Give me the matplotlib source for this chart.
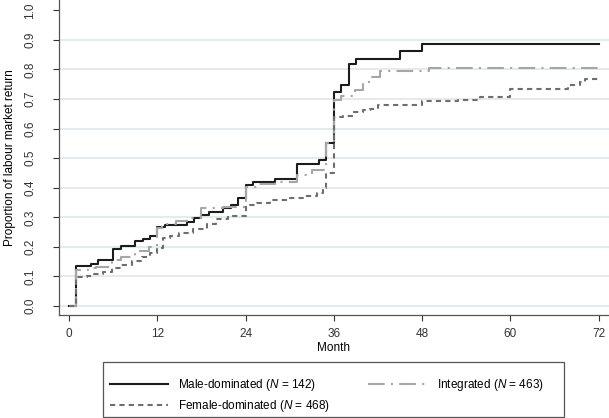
import matplotlib.pyplot as plt
from matplotlib.patches import Rectangle

plt.rcParams["font.family"] = "Liberation Sans"
plt.rcParams["mathtext.fontset"] = "custom"
plt.rcParams["mathtext.rm"] = "Liberation Sans"
plt.rcParams["mathtext.it"] = "Liberation Sans:italic"

# %% Data
male_t = [0, 1, 3, 4, 6, 7, 9, 10, 11, 12, 13, 16, 17, 18, 19, 21, 22, 23, 24, 25,
          28, 31, 34, 35, 36, 37, 38, 39, 45, 48, 72]
male_v = [0, 0.136, 0.142, 0.155, 0.193, 0.203, 0.220, 0.227, 0.236, 0.267, 0.274,
          0.285, 0.296, 0.307, 0.319, 0.330, 0.341, 0.365, 0.409, 0.420, 0.428, 0.480,
          0.493, 0.552, 0.724, 0.749, 0.817, 0.837, 0.862, 0.887, 0.887]

integ_t = [0, 1, 2.6, 3.7, 5.8, 7.1, 9, 10.9, 12, 12.7, 14.5, 16, 18, 21, 24, 25.5,
           28, 31, 33, 35, 36, 37, 38.9, 40, 41, 42.3, 49, 72]
integ_v = [0, 0.122, 0.128, 0.133, 0.155, 0.165, 0.186, 0.198, 0.264, 0.277, 0.288,
           0.298, 0.330, 0.335, 0.403, 0.411, 0.420, 0.443, 0.460, 0.552, 0.696, 0.710,
           0.730, 0.758, 0.775, 0.795, 0.806, 0.806]

female_t = [0, 1, 2.4, 3.3, 4.6, 5.8, 7.1, 8.5, 9.9, 11, 12, 12.8, 13.7, 15, 16.8,
            18.7, 20, 21.6, 24, 25.5, 27.3, 30, 31.8, 33.7, 34.5, 35, 36, 37.3, 38.6,
            40, 40.9, 42, 48, 52.9, 55.8, 60, 67.8, 69.4, 70.1, 72]
female_v = [0, 0.097, 0.100, 0.107, 0.116, 0.128, 0.138, 0.153, 0.167, 0.178, 0.195,
            0.229, 0.238, 0.248, 0.262, 0.279, 0.293, 0.304, 0.341, 0.349, 0.358, 0.364,
            0.372, 0.381, 0.398, 0.450, 0.638, 0.642, 0.656, 0.662, 0.668, 0.679, 0.693,
            0.698, 0.707, 0.735, 0.747, 0.758, 0.767, 0.767]

x_ticks = [0, 12, 24, 36, 48, 60, 72]
y_ticks = [0.0, 0.1, 0.2, 0.3, 0.4, 0.5, 0.6, 0.7, 0.8, 0.9, 1.0]

FS = 8.5

# %% Plot
fig = plt.figure(figsize=(6.09, 4.18), dpi=100)
ax = fig.add_axes([59 / 609, 1 - 315 / 418, 550 / 609, 315 / 418])

for y in y_ticks[:-1]:
    ax.axhline(y, color="#e1e9ec", lw=1.3, zorder=0)

l_male, = ax.step(male_t, male_v, where="post", color="#1c1c1c", lw=1.5)
l_int, = ax.step(integ_t, integ_v, where="post", color="#a6a6a6", lw=1.5,
                 linestyle=(0, (8, 3, 1, 3)))
l_fem, = ax.step(female_t, female_v, where="post", color="#6e6e6e", lw=1.5,
                 linestyle=(0, (2.5, 2)))

ax.set_xlim(-1.36, 73.4)
ax.set_ylim(-0.0304, 1.035)
ax.set_xticks(x_ticks)
ax.set_yticks(y_ticks)
ax.set_yticklabels([f"{v:.1f}" for v in y_ticks], rotation=90, va="center")
ax.tick_params(axis="both", labelsize=FS, colors="#333333", length=4.5, width=0.8)
ax.tick_params(axis="y", pad=12)
ax.tick_params(axis="x", pad=5)
for s in ["top", "right"]:
    ax.spines[s].set_visible(False)
for s in ["left", "bottom"]:
    ax.spines[s].set_color("#555555")
    ax.spines[s].set_linewidth(0.9)

ax.set_xlabel("Month", fontsize=FS, labelpad=1)
ax.set_ylabel("Proportion of labour market return", fontsize=FS, labelpad=6)

# legend box drawn separately so the columns sit where the reference has them
fig.add_artist(Rectangle((103 / 609, 1 / 418), 461 / 609, 55 / 418,
                         transform=fig.transFigure, fill=False,
                         edgecolor="#555555", lw=0.9))
fig.legend([l_male, l_fem, l_int],
           ["Male-dominated ($\\mathit{N}$ = 142)",
            "Female-dominated ($\\mathit{N}$ = 468)",
            "Integrated ($\\mathit{N}$ = 463)"],
           ncol=2, loc="upper left", bbox_to_anchor=(110 / 609, 1 - 377 / 418),
           fontsize=FS, frameon=False, handlelength=4.9, handletextpad=0.9,
           columnspacing=3.2, borderaxespad=0, borderpad=0, labelspacing=0.42)

plt.savefig("out.png", dpi=100)
